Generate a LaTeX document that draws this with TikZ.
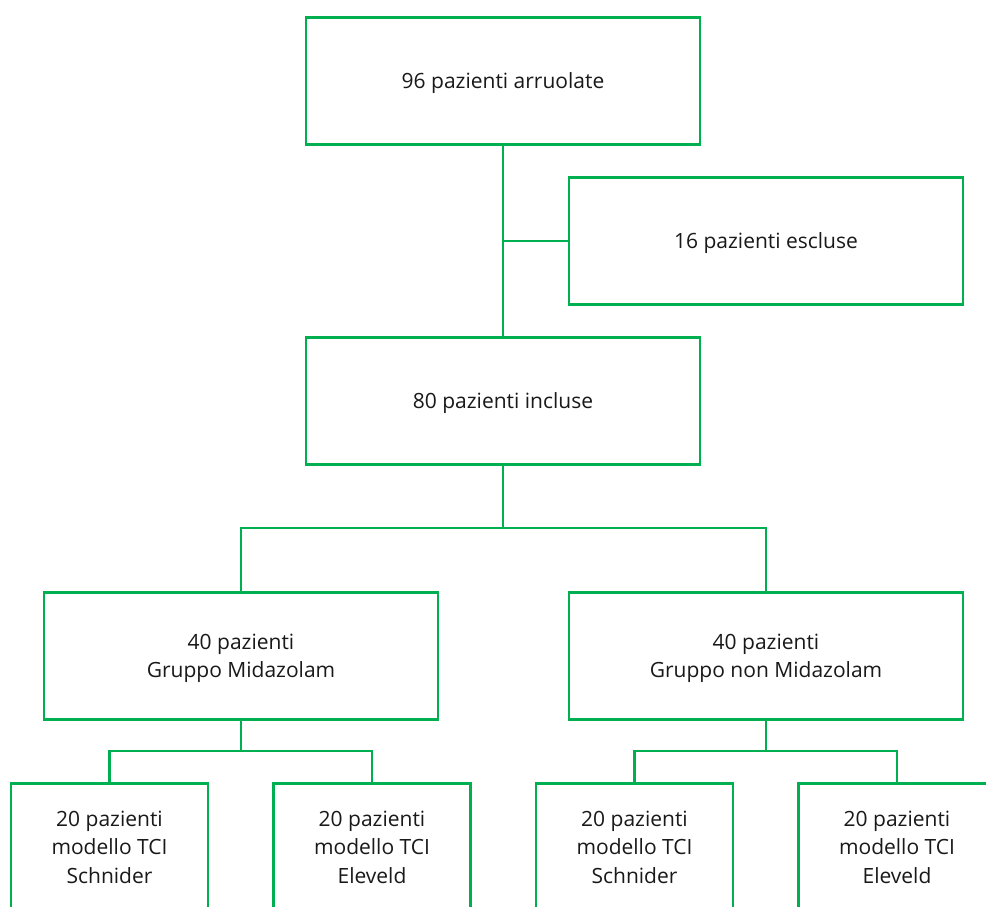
\documentclass[tikz,border=0pt]{standalone}
\usepackage{fontspec}
\setmainfont{Open Sans}
\definecolor{boxgreen}{RGB}{0,176,80}
\definecolor{txt}{RGB}{25,25,25}
\newcommand{\btxt}[1]{\raisebox{-1.8pt}[\height][\depth]{\begin{tabular}{@{}c@{}}#1\end{tabular}}}
\begin{document}
\begin{tikzpicture}[x=1pt,y=-1pt,
  bigbox/.style={draw=boxgreen,line width=2.2pt,minimum width=394pt,minimum height=127pt,text=txt,inner sep=0pt,font=\fontsize{21}{28.5}\selectfont},
  smallbox/.style={bigbox,minimum width=197pt},
  conn/.style={draw=boxgreen,line width=2.2pt}]
\useasboundingbox (0,0) rectangle (986,907);
\clip (0,0) rectangle (986,907);
\fill[white] (0,0) rectangle (986,907);
\node[bigbox] (A) at (503,81) {\btxt{96 pazienti arruolate}};
\node[bigbox] (E) at (766,241) {\btxt{16 pazienti escluse}};
\node[bigbox] (I) at (503,401) {\btxt{80 pazienti incluse}};
\node[bigbox] (L) at (241,656) {\btxt{40 pazienti\\Gruppo Midazolam}};
\node[bigbox] (R) at (766,656) {\btxt{40 pazienti\\Gruppo non Midazolam}};
\node[smallbox] (L1) at (109.5,847) {\btxt{20 pazienti\\modello TCI\\Schnider}};
\node[smallbox] (L2) at (372,847) {\btxt{20 pazienti\\modello TCI\\Eleveld}};
\node[smallbox] (R1) at (634.5,847) {\btxt{20 pazienti\\modello TCI\\Schnider}};
\node[smallbox] (R2) at (897,847) {\btxt{20 pazienti\\modello TCI\\Eleveld}};
\coordinate (b1) at (503,528);
\coordinate (b2) at (241,751);
\coordinate (b3) at (766,751);
\draw[conn] (A.south) -- (I.north);
\draw[conn] (E.west) -- (E.west -| A.south);
\draw[conn] (I.south) -- (b1);
\draw[conn] (L.north) |- (b1) -| (R.north);
\draw[conn] (L.south) -- (b2);
\draw[conn] (L1.north) |- (b2) -| (L2.north);
\draw[conn] (R.south) -- (b3);
\draw[conn] (R1.north) |- (b3) -| (R2.north);
\end{tikzpicture}
\end{document}
